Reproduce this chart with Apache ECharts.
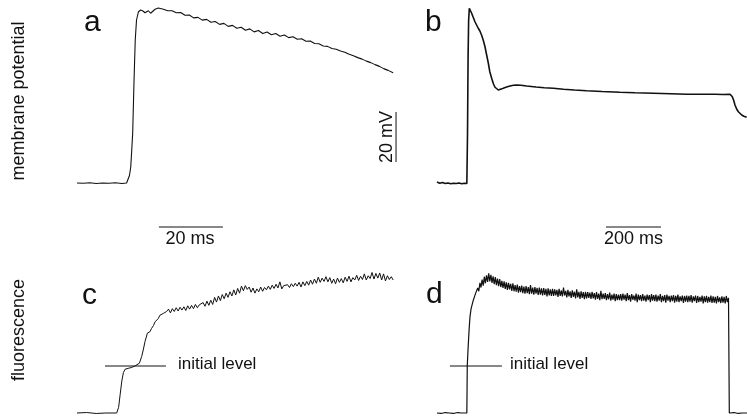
<!DOCTYPE html>
<html>
<head>
<meta charset="utf-8">
<script src="https://cdn.jsdelivr.net/npm/echarts@6/dist/echarts.min.js"></script>
<style>html,body{margin:0;padding:0;background:#fff}#chart{width:747px;height:420px}</style>
</head>
<body>
<div id="chart"></div>
<script>
// ---- Panel a: membrane potential (ms, mV) ----
const aTime = [0,2,4,6,8,10,12,14,15.5,16.0,16.4,16.8,17.1,17.4,17.8,18.2,18.6,19.2,19.9,20.6,21.25,21.8,22.3,23.0,23.7,24.4,25.4,
  27.0,28.35,29.7,31.05,32.4,33.75,35.1,36.45,37.8,39.15,40.5,41.85,43.2,44.55,45.9,47.25,48.6,49.95,51.3,52.65,54.0,55.35,56.7,58.05,59.4,60.75,62.1,63.45,64.8,66.15,67.5,68.85,70.2,71.55,72.9,74.25,75.6,76.95,78.3,79.65,81.0,82.35,83.7,85.05,86.4,87.75,89.1,90.45,91.8,93.15,94.5,95.85,97.2,98.8];
const aVolt = [-80.0,-80.1,-79.9,-80.2,-80.0,-80.1,-79.9,-80.2,-80.0,-79.5,-77.0,-73.5,-67.0,-60.1,-40.1,-22.8,-14.8,-11.5,-10.8,-11.2,-11.9,-11.4,-11.1,-12.1,-11.3,-10.5,-10.0,
  -10.5,-11.1,-11.1,-11.9,-11.8,-12.9,-12.8,-13.95,-13.75,-14.85,-14.55,-15.7,-15.4,-16.55,-16.15,-17.35,-16.95,-18.1,-17.7,-18.9,-18.35,-19.55,-19.0,-20.2,-19.6,-20.7,-20.2,-21.3,-20.8,-21.85,-21.5,-22.5,-22.3,-23.3,-23.2,-24.2,-24.3,-25.2,-25.35,-26.2,-26.5,-27.2,-27.7,-28.5,-29.1,-29.85,-30.45,-31.25,-31.85,-32.65,-33.35,-34.25,-34.95,-35.9];

// ---- Panel b: membrane potential (ms, mV) ----
const bTime = [0,10,20,30,40,50,60,70,80,90,100,108.5,111,113,115,117.5,120,126,132,138,144,150,156,162,168,174.5,180,186.7,192,198.8,205,210.9,217,223,230,241,253,265.5,278,290,305,326,360,390,423,460,500,544,600,665,720,786.5,850,908,960,1010,1040,1065.5,1074,1079,1083.6,1090,1095.8,1102,1108,1116,1126];
const bVolt = [-79.6,-80.1,-79.8,-80.2,-80.0,-80.3,-80.1,-80.2,-80.0,-80.3,-80.1,-80.2,-60,-30,-15,-10.1,-10.6,-12.1,-13.8,-15.5,-16.8,-18.1,-19.2,-20.8,-22.8,-25.5,-28.5,-32.1,-35.5,-38.1,-40.3,-41.7,-42.5,-42.8,-42.7,-42.1,-41.6,-41.2,-40.9,-40.8,-40.9,-41.2,-41.6,-41.9,-42.1,-42.5,-42.8,-43.1,-43.4,-43.7,-43.9,-44.1,-44.3,-44.5,-44.5,-44.5,-44.6,-44.5,-45.5,-47.0,-48.8,-50.5,-51.5,-52.3,-52.8,-53.3,-53.7];

// ---- Panel c: fluorescence (ms, % of initial level) ----
const cHeadTime = [0,3,6,9,12.4,13.0,13.5,14.0,14.5,15.0,15.5,16.0,16.6,17.1,17.6,18.1,18.7,19.5,20.2,20.7,21.25,22.0,22.8,23.3,23.9,24.4,24.9,25.4,25.9,26.5,27.0,27.5];
const cHeadF    = [0,1,-1,0,0,12,40,68,86,93,90,95,91,97,95,100,102,106,120,134,152,170,173,180,186,194,191,201,208,205,212,214];
const cSampleStart = 28.0, cSampleStep = 0.6;
const cSampleF = [216,221,213,222,216,224,217,225,219,226,218,228,221,229,
  222,231,224,230,226,235,227,238,229,240,
  231,246,236,249,239,252,243,255,
  246,258,249,262,251,265,255,270,
  260,271,263,268,257,266,255,264,258,
  268,259,267,262,270,263,272,265,
  274,266,279,264,271,268,273,267,275,269,
  276,270,278,268,279,271,280,272,
  283,274,285,276,289,278,287,280,290,
  279,288,276,285,275,287,278,286,
  277,289,280,291,279,288,283,293,282,
  291,284,296,283,292,286,299,285,297,287,
  298,283,296,281,292,284,290,283];

// ---- Panel d: fluorescence (ms, % of initial level) ----
const dHeadTime = [0,15,30,45,60,75,90,108.5,109.3,110,112,114,117];
const dHeadF    = [0,-1,1,0,-1,1,0,0,50,99,125,148,180];
const dSampleStart = 120, dSampleStep = 4;
const dSampleF = [205,222,226,240,241,254,251,266,259,277,267,284,271,290,276,293,279,297,280,294,277,291,274,289,272,286,270,285,268,281,266,
  280,264,278,262,277,263,275,260,276,259,272,258,273,256,270,
  257,271,255,269,254,270,255,268,253,272,254,267,
  252,268,254,266,251,267,252,265,250,266,251,264,248,265,250,263,249,264,
  249,263,250,262,247,264,249,261,248,267,250,260,246,262,248,259,245,261,247,258,244,263,246,258,243,259,245,257,242,258,
  244,257,245,256,243,258,244,255,241,257,243,254,240,260,242,254,243,255,240,253,242,256,239,252,241,254,238,253,240,252,
  240,253,239,254,241,252,238,255,240,251,237,253,241,250,239,254,236,252,240,251,238,253,239,250,237,252,240,251,236,253,
  239,251,238,252,237,250,239,253,236,249,238,251,235,252,239,249,236,250,238,251,235,249,237,252,236,248,238,250,234,249,237,
  250,236,249,237,251,235,248,238,250,234,249,236,247,237,250,233,248,236,249,235,247,236,250,234,248,235,247,233,249,236,246,234,248,235,247,233,249,236,245];
const dTailTime = [1061,1063,1066,1080,1095,1110,1132];
const dTailF    = [243,0,0,1,-1,0,0];

// ---- Scale bars / reference lines (data units) ----
const barTimeA = [25.6, 45.6];   // 20 ms, panel a units
const barTimeAY = -97.6;
const barVoltA = [-71.6, -51.6]; // 20 mV
const barVoltAX = 99.7;
const barTimeB = [614.5, 814.5]; // 200 ms, panel b units
const barTimeBY = -97.6;
const initLevelC = [8.75, 27.8];
const initLevelD = [47, 236];
const initLevelValue = 100;

// ---- Text ----
const panelLetters = ['a','b','c','d'];
const rowLabels = ['membrane potential','fluorescence'];
const scaleTexts = ['20 ms','200 ms','20 mV'];
const initText = 'initial level';

function pairs(t, v){ return t.map((x,i)=>[x, v[i]]); }
function sampled(start, step, v){ return v.map((y,i)=>[+(start+i*step).toFixed(3), y]); }

const aData = pairs(aTime, aVolt);
const bData = pairs(bTime, bVolt);
const cData = pairs(cHeadTime, cHeadF).concat(sampled(cSampleStart, cSampleStep, cSampleF));
const dData = pairs(dHeadTime, dHeadF).concat(sampled(dSampleStart, dSampleStep, dSampleF)).concat(pairs(dTailTime, dTailF));

const FONT = "'Liberation Sans', Arial, Helvetica, sans-serif";
const INK = '#111';

function trace(data, xi, w){
  return {type:'line', xAxisIndex:xi, yAxisIndex:xi, data:data, symbol:'none', showSymbol:false,
    clip:false, lineStyle:{color:INK, width:w||1}, animation:false, silent:true, z:3};
}
function seg(p, xi){
  return {type:'line', xAxisIndex:xi, yAxisIndex:xi, data:p, symbol:'none', showSymbol:false,
    clip:false, lineStyle:{color:INK, width:1}, animation:false, silent:true, z:2};
}

const chart = echarts.init(document.getElementById('chart'), null, {renderer:'canvas'});
chart.setOption({
  backgroundColor:'#fff',
  animation:false,
  grid:[
    {left:77, top:8, width:320, height:225},
    {left:437, top:8, width:310, height:225},
    {left:77, top:272, width:320, height:141},
    {left:437, top:272, width:310, height:141}
  ],
  xAxis:[
    {type:'value', gridIndex:0, min:0, max:100, show:false},
    {type:'value', gridIndex:1, min:0, max:1127.27, show:false},
    {type:'value', gridIndex:2, min:0, max:100, show:false},
    {type:'value', gridIndex:3, min:0, max:1127.27, show:false}
  ],
  yAxis:[
    {type:'value', gridIndex:0, min:-100, max:-10, show:false},
    {type:'value', gridIndex:1, min:-100, max:-10, show:false},
    {type:'value', gridIndex:2, min:0, max:300, show:false},
    {type:'value', gridIndex:3, min:0, max:300, show:false}
  ],
  series:[
    trace(aData, 0, 1.1),
    trace(bData, 1, 1.6),
    trace(cData, 2, 1),
    trace(dData, 3, 1.2),
    seg([[barTimeA[0], barTimeAY],[barTimeA[1], barTimeAY]], 0),
    seg([[barVoltAX, barVoltA[0]],[barVoltAX, barVoltA[1]]], 0),
    seg([[barTimeB[0], barTimeBY],[barTimeB[1], barTimeBY]], 1),
    seg([[initLevelC[0], initLevelValue],[initLevelC[1], initLevelValue]], 2),
    seg([[initLevelD[0], initLevelValue],[initLevelD[1], initLevelValue]], 3)
  ]
});

function txt(s, x, y, size, opts){
  opts = opts || {};
  return {type:'text', x:x, y:y, rotation:opts.rot||0, silent:true, z:10,
    style:{text:s, x:0, y:0, fill:INK, font: size+'px '+FONT,
      textAlign:opts.align||'left', align:opts.align||'left',
      textVerticalAlign:'middle', verticalAlign:'middle'}};
}
const pA1 = chart.convertToPixel({gridIndex:0}, [(barTimeA[0]+barTimeA[1])/2, barTimeAY]);
const pB1 = chart.convertToPixel({gridIndex:1}, [(barTimeB[0]+barTimeB[1])/2, barTimeBY]);
const pV = chart.convertToPixel({gridIndex:0}, [barVoltAX, (barVoltA[0]+barVoltA[1])/2]);
const pIC = chart.convertToPixel({gridIndex:2}, [initLevelC[1], initLevelValue]);
const pID = chart.convertToPixel({gridIndex:3}, [initLevelD[1], initLevelValue]);

chart.setOption({
  graphic:[
    txt(panelLetters[0], 84, 22.6, 30),
    txt(panelLetters[1], 425, 22.6, 30),
    txt(panelLetters[2], 82, 295.5, 30),
    txt(panelLetters[3], 426, 294.5, 30),
    txt(rowLabels[0], 19, 101, 18, {align:'center', rot:Math.PI/2}),
    txt(rowLabels[1], 19, 330, 18, {align:'center', rot:Math.PI/2}),
    txt(scaleTexts[0], pA1[0]-1, pA1[1]+12.5, 18, {align:'center'}),
    txt(scaleTexts[1], pB1[0], pB1[1]+12.5, 18, {align:'center'}),
    txt(scaleTexts[2], pV[0]-9.5, pV[1], 18, {align:'center', rot:Math.PI/2}),
    txt(initText, pIC[0]+12, pIC[1]-2, 17),
    txt(initText, pID[0]+8, pID[1]-2, 17)
  ]
});
</script>
</body>
</html>
